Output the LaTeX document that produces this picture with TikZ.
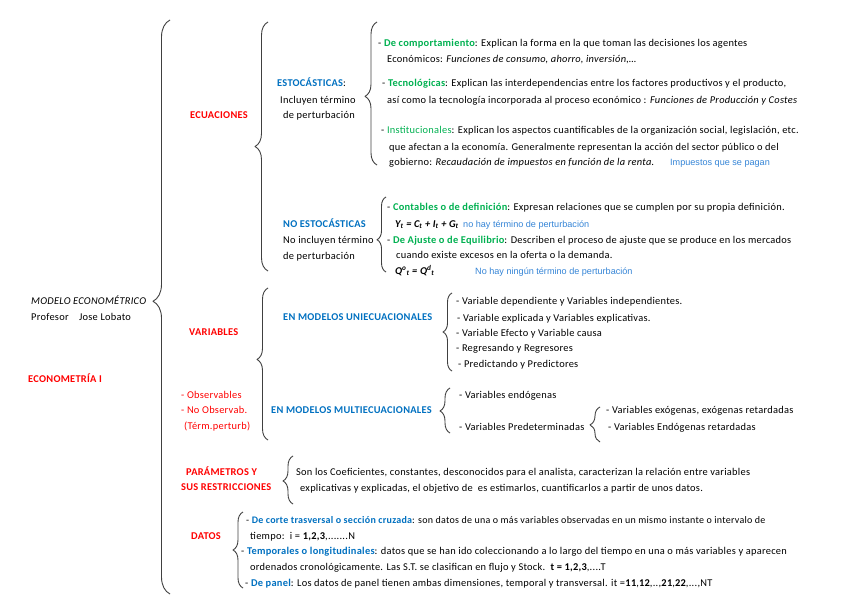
\documentclass[tikz,border=0pt]{standalone}
\usepackage{fontspec}
\setmainfont{Carlito}[LetterSpace=2.6]
\newfontfamily\notefont{Liberation Sans}
\usepackage{xcolor}
\usetikzlibrary{decorations.pathreplacing}
\definecolor{mapred}{RGB}{255,0,0}
\definecolor{mapblue}{RGB}{0,112,192}
\definecolor{mapgreen}{RGB}{0,176,80}
\definecolor{noteblue}{RGB}{52,132,214}

\begin{document}
\begin{tikzpicture}[x=1pt,y=-1pt,line join=round,
  txt/.style={anchor=base west,inner sep=0pt,font=\fontsize{10.4}{12}\selectfont},
  redhead/.style={txt,text=mapred,font=\fontsize{10.4}{12}\selectfont\bfseries},
  bluehead/.style={txt,text=mapblue,font=\fontsize{10.4}{12}\selectfont\bfseries},
  notetxt/.style={txt,text=noteblue,font=\notefont\fontsize{9.1}{10}\selectfont},
  brc/.style={decorate,line width=0.9pt,black!75}]
  \useasboundingbox (0,0) rectangle (848,599);
  % brace end points
  \coordinate (B0t) at (170,20);  \coordinate (B0b) at (170,594);
  \coordinate (B1t) at (268,22);  \coordinate (B1b) at (268,271);
  \coordinate (B2t) at (268,288); \coordinate (B2b) at (268,440);
  \coordinate (B3t) at (293,456); \coordinate (B3b) at (293,504);
  \coordinate (B4t) at (243,512); \coordinate (B4b) at (243,588);
  \coordinate (B5t) at (377,22);  \coordinate (B5b) at (377,165);
  \coordinate (B6t) at (386,197); \coordinate (B6b) at (386,272);
  \coordinate (B7t) at (452,293); \coordinate (B7b) at (452,371);
  \coordinate (B8t) at (450,388); \coordinate (B8b) at (450,433);
  \coordinate (B9t) at (600,407); \coordinate (B9b) at (600,442);
  \draw[brc,decoration={brace,amplitude=17pt,aspect=0.51}] (B0b) -- (B0t);
  \draw[brc,decoration={brace,amplitude=13pt,aspect=0.50}] (B1b) -- (B1t);
  \draw[brc,decoration={brace,amplitude=11pt,aspect=0.53}] (B2b) -- (B2t);
  \draw[brc,decoration={brace,amplitude=10pt,aspect=0.48}] (B3b) -- (B3t);
  \draw[brc,decoration={brace,amplitude=10pt,aspect=0.50}] (B4b) -- (B4t);
  \draw[brc,decoration={brace,amplitude=12pt,aspect=0.48}] (B5b) -- (B5t);
  \draw[brc,decoration={brace,amplitude=9pt,aspect=0.43}] (B6b) -- (B6t);
  \draw[brc,decoration={brace,amplitude=9pt,aspect=0.50}] (B7b) -- (B7t);
  \draw[brc,decoration={brace,amplitude=10pt,aspect=0.49}] (B8b) -- (B8t);
  \draw[brc,decoration={brace,amplitude=10pt,aspect=0.49}] (B9b) -- (B9t);
  % left column
  \node[txt,font=\fontsize{10.4}{12}\selectfont\itshape] (mod) at (31,304) {MODELO ECONOMÉTRICO};
  \node[txt] (prof) at (31,320) {Profesor\quad Jose Lobato};
  \node[redhead] (econ) at (28,382) {ECONOMETRÍA I};
  % second column
  \node[redhead] (ecu) at (190,119) {ECUACIONES};
  \node[redhead] (var) at (189,335) {VARIABLES};
  \node[txt,text=mapred] (obs) at (181,398) {- Observables};
  \node[txt,text=mapred] (noobs) at (181,413) {- No Observab.};
  \node[txt,text=mapred] (term) at (184,429) {(Térm.perturb)};
  \node[redhead] (par) at (186,475) {PARÁMETROS Y};
  \node[redhead] (sus) at (181,490) {SUS RESTRICCIONES};
  \node[redhead] (dat) at (191,539) {DATOS};
  % ecuaciones
  \node[txt] (est) at (277,87) {\textcolor{mapblue}{\bfseries ESTOCÁSTICAS}:};
  \node[txt] (est2) at (280,103) {Incluyen término};
  \node[txt] (est3) at (283,119) {de perturbación};
  \node[bluehead] (noest) at (283,227) {NO ESTOCÁSTICAS};
  \node[txt] (noest2) at (283,243) {No incluyen término};
  \node[txt] (noest3) at (283,259) {de perturbación};
  \node[txt] (comp1) at (378,47) {- \textcolor{mapgreen}{\bfseries De comportamiento}: Explican la forma en la que toman las decisiones los agentes};
  \node[txt] (comp2) at (387,63) {Económicos: \textit{Funciones de consumo, ahorro, inversión,…}};
  \node[txt] (tec1) at (382,87) {- \textcolor{mapgreen}{\bfseries Tecnológicas}: Explican las interdependencias entre los factores productivos y el producto,};
  \node[txt] (tec2) at (387,103) {así como la tecnología incorporada al proceso económico : \textit{Funciones de Producción y Costes}};
  \node[txt] (ins1) at (381,134) {- \textcolor{mapgreen}{Institucionales}: Explican los aspectos cuantificables de la organización social, legislación, etc.};
  \node[txt] (ins2) at (389,150) {que afectan a la economía. Generalmente representan la acción del sector público o del};
  \node[txt] (ins3) at (389,165) {gobierno: \textit{Recaudación de impuestos en función de la renta.}};
  \node[notetxt] (insn) at (670,165) {Impuestos que se pagan};
  \node[txt] (con1) at (387,210) {- \textcolor{mapgreen}{\bfseries Contables o de definición}: Expresan relaciones que se cumplen por su propia definición.};
  \node[txt,font=\fontsize{10.4}{12}\selectfont\bfseries\itshape] (con2) at (395,227) {Y\textsubscript{t} = C\textsubscript{t} + I\textsubscript{t} + G\textsubscript{t}};
  \node[notetxt] (conn) at (463,227) {no hay término de perturbación};
  \node[txt] (aju1) at (387,243) {- \textcolor{mapgreen}{\bfseries De Ajuste o de Equilibrio}: Describen el proceso de ajuste que se produce en los mercados};
  \node[txt] (aju2) at (396,258) {cuando existe excesos en la oferta o la demanda.};
  \node[txt,font=\fontsize{10.4}{12}\selectfont\bfseries\itshape] (aju3) at (395,274) {Q\textsuperscript{o}\textsubscript{t} = Q\textsuperscript{d}\textsubscript{t}};
  \node[notetxt] (ajun) at (475,274) {No hay ningún término de perturbación};
  % variables
  \node[bluehead] (uni) at (283,320) {EN MODELOS UNIECUACIONALES};
  \node[txt] (uni1) at (456,304) {- Variable dependiente y Variables independientes.};
  \node[txt] (uni2) at (457,321) {- Variable explicada y Variables explicativas.};
  \node[txt] (uni3) at (456,336) {- Variable Efecto y Variable causa};
  \node[txt] (uni4) at (456,351) {- Regresando y Regresores};
  \node[txt] (uni5) at (458,367) {- Predictando y Predictores};
  \node[bluehead] (multi) at (271,413) {EN MODELOS MULTIECUACIONALES};
  \node[txt] (endo) at (459,398) {- Variables endógenas};
  \node[txt] (pred) at (459,430) {- Variables Predeterminadas};
  \node[txt] (exo) at (606,413) {- Variables exógenas, exógenas retardadas};
  \node[txt] (endr) at (608,430) {- Variables Endógenas retardadas};
  % parametros
  \node[txt] (par1) at (296,475) {Son los Coeficientes, constantes, desconocidos para el analista, caracterizan la relación entre variables};
  \node[txt] (par2) at (300,491) {explicativas y explicadas, el objetivo de\ \ es estimarlos, cuantificarlos a partir de unos datos.};
  % datos
  \node[txt,font=\fontsize{10}{12}\selectfont] (dat1) at (246,523) {- \textcolor{mapblue}{\bfseries De corte trasversal o sección cruzada}: son datos de una o más variables observadas en un mismo instante o intervalo de};
  \node[txt] (dat2) at (250,539) {tiempo:\ \ i = \textbf{1,2,3},.......N};
  \node[txt] (dat3) at (241,554) {- \textcolor{mapblue}{\bfseries Temporales o longitudinales}: datos que se han ido coleccionando a lo largo del tiempo en una o más variables y aparecen};
  \node[txt] (dat4) at (250,570) {ordenados cronológicamente. Las S.T. se clasifican en flujo y Stock.\ \ \textbf{t = 1,2,3},....T};
  \node[txt] (dat5) at (245,586) {- \textcolor{mapblue}{\bfseries De panel}: Los datos de panel tienen ambas dimensiones, temporal y transversal. it =\textbf{11},\textbf{12},..,\textbf{21},\textbf{22},...,NT};
\end{tikzpicture}
\end{document}
